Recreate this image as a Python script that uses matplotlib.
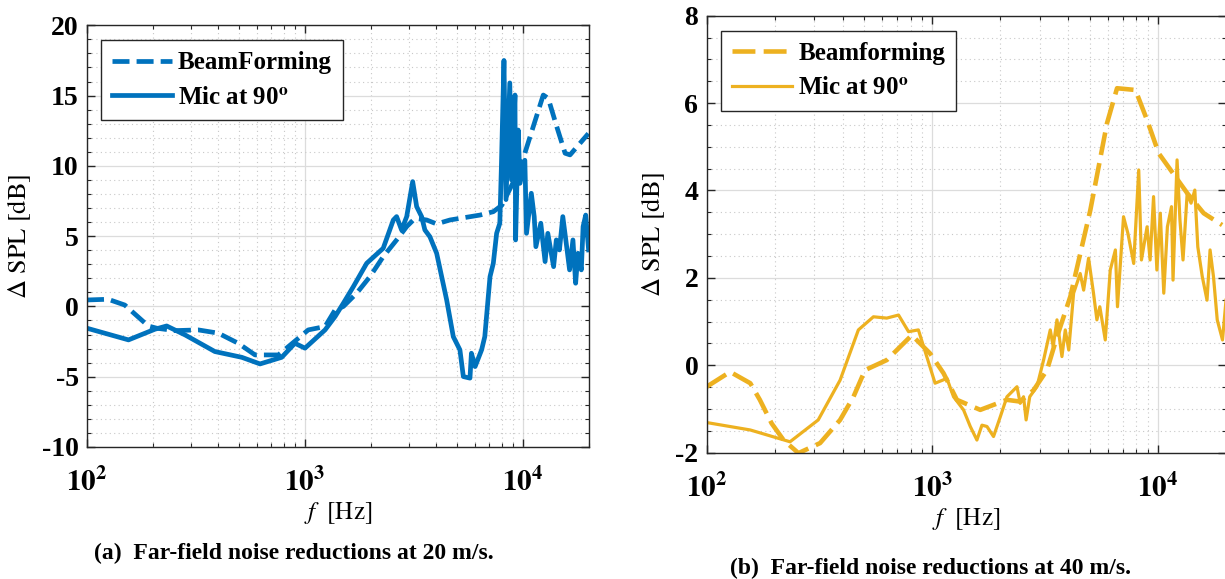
# Far-field noise reductions, beamforming vs single microphone, 20 and 40 m/s

import numpy as np
import matplotlib
matplotlib.use('Agg')
import matplotlib.pyplot as plt
from matplotlib.ticker import FixedLocator, FixedFormatter, MultipleLocator, LogLocator, NullFormatter

plt.rcParams['font.family'] = ['Liberation Serif', 'DejaVu Serif']
plt.rcParams['mathtext.fontset'] = 'stix'
plt.rcParams['axes.unicode_minus'] = False

blue = '#0072BD'
yellow = '#EDB120'

# ---- 20 m/s ----
f_bf_20 = [100, 125, 149, 191, 209, 253, 324, 400, 494, 590, 755, 933, 1035, 1236, 1374,
           1500, 1726, 1986, 2285, 2632, 2928, 3198, 3616, 4018, 4624, 6350, 7310,
           8000, 9000, 10200, 11150, 12390, 13060, 14280, 15600, 16440, 19950]
spl_bf_20 = [0.46, 0.51, 0.1, -1.39, -1.55, -1.72, -1.67, -1.9, -2.62, -3.45, -3.45, -2.26, -1.67, -1.43, -0.25,
             0.0, 0.94, 2.12, 3.54, 4.73, 5.68, 6.27, 6.15, 5.87, 6.15, 6.5, 6.74,
             7.2, 8.8, 10.9, 12.8, 15.04, 14.8, 12.8, 10.9, 10.78, 12.3]

f_mic_20 = [100, 155, 205, 232, 282, 386, 513, 622, 782, 899, 1000, 1236, 1374, 1500, 1667,
            1919, 2285, 2542, 2632, 2774, 2928, 3119, 3253, 3428, 3548, 3741, 4018, 4466,
            4790, 5137, 5326, 5712, 5800, 6030, 6460, 6680, 7060, 7310, 7570, 7830, 7960,
            8180, 8360, 8700, 8860, 9190, 9250, 9510, 9690, 10200, 10380, 10920, 11260,
            11460, 12070, 12630, 13000, 13820, 14220, 14700, 15230, 15790, 16360, 16950,
            17440, 17870, 18520, 18870, 19400, 20000]
spl_mic_20 = [-1.55, -2.38, -1.62, -1.39, -2.03, -3.21, -3.62, -4.09, -3.62, -2.62, -2.97, -1.67, -0.72, 0.23, 1.41,
              3.07, 4.14, 6.15, 6.39, 5.44, 6.39, 8.88, 7.1, 6.39, 5.44, 4.96, 3.78, 0.46,
              -2.15, -3.09, -4.99, -5.1, -3.33, -4.28, -3.09, -2.15, 2.12, 3.07, 5.2, 5.92, 9.94,
              17.5, 7.6, 15.9, 9.0, 15.04, 4.73, 12.55, 8.76, 10.4, 5.2, 8.05, 6.39,
              4.25, 5.92, 3.19, 5.2, 2.83, 4.73, 4.02, 6.39, 4.5, 2.6, 4.73,
              1.65, 3.78, 2.6, 5.68, 6.5, 4.02]

# ---- 40 m/s ----
f_bf_40 = [100, 127, 156, 172, 194, 219, 255, 318, 390, 447, 503, 628, 811, 977, 1120,
           1284, 1630, 2138, 2449, 2806, 3219, 3565, 4084, 5010, 5940, 6580, 7940, 8940,
           10070, 13460, 15930, 19220]
spl_bf_40 = [-0.49, -0.15, -0.41, -0.79, -1.33, -1.71, -2.01, -1.78, -1.25, -0.72, -0.11, 0.12, 0.69, 0.27, -0.18,
             -0.79, -1.02, -0.79, -0.83, -0.57, -0.11, 0.65, 1.57, 3.55, 5.54, 6.34, 6.3, 5.61,
             4.85, 3.94, 3.48, 3.21]

f_mic_40 = [100, 156, 234, 312, 390, 470, 548, 628, 708, 784, 867, 1028, 1160, 1241, 1374,
            1472, 1575, 1658, 1745, 1866, 1999, 2140, 2371, 2450, 2535, 2602, 2700, 2905,
            3110, 3329, 3430, 3565, 3750, 3880, 4020, 4225, 4519, 4680, 4922, 5175, 5358,
            5520, 5835, 6140, 6470, 6610, 7030, 7350, 7800, 8210, 8440, 8940, 9220, 9550,
            9880, 10230, 10600, 11000, 11470, 11650, 12140, 12500, 12900, 13460, 14000,
            14550, 15000, 15700, 16480, 17000, 17600, 18290, 19300, 20000]
spl_mic_40 = [-1.31, -1.48, -1.75, -1.25, -0.34, 0.81, 1.11, 1.08, 1.15, 0.77, 0.81, -0.41, -0.3, -0.72, -1.02,
              -1.4, -1.71, -1.37, -1.4, -1.63, -1.18, -0.72, -0.49, -0.87, -0.72, -1.25, -0.72, -0.49,
              0.12, 0.81, 0.43, 1.04, 0.2, 0.81, 0.35, 1.65, 2.1, 1.72, 2.45, 1.65, 1.04,
              1.34, 0.58, 2.18, 2.64, 1.34, 3.4, 3.02, 2.33, 4.47, 2.41, 3.17, 2.41, 3.86,
              2.18, 3.48, 1.65, 3.17, 3.63, 1.95, 4.7, 3.33, 2.41, 3.94, 3.71,
              4.01, 2.71, 2.03, 1.49, 2.64, 2.03, 1.04, 0.58, 1.49]

fig = plt.figure(figsize=(12.25, 5.79), dpi=100)
ax1 = fig.add_axes([87 / 1225, 1 - 447 / 579, (588.6 - 87) / 1225, (447 - 25.3) / 579])
ax2 = fig.add_axes([706.7 / 1225, 1 - 452.7 / 579, (1226 - 706.7) / 1225, (452.7 - 15.7) / 579])

ax1.plot(f_bf_20, spl_bf_20, color=blue, lw=3.4, ls='--', dashes=(3.6, 1.5), label='BeamForming')
ax1.plot(f_mic_20, spl_mic_20, color=blue, lw=3.4, label=r'Mic at 90$^\mathbf{o}$')
ax2.plot(f_bf_40, spl_bf_40, color=yellow, lw=3.3, ls='--', dashes=(5, 1.8), label='Beamforming')
ax2.plot(f_mic_40, spl_mic_40, color=yellow, lw=2.3, label=r'Mic at 90$^\mathbf{o}$')

ax1.set_ylim(-10, 20)
ax2.set_ylim(-2, 8)
ax1.yaxis.set_major_locator(MultipleLocator(5))
ax1.yaxis.set_minor_locator(MultipleLocator(1))
ax2.yaxis.set_major_locator(MultipleLocator(2))
ax2.yaxis.set_minor_locator(MultipleLocator(0.5))

for ax in (ax1, ax2):
    ax.set_xscale('log')
    ax.set_xlim(100, 20000)
    ax.xaxis.set_major_locator(FixedLocator([100, 1000, 10000]))
    ax.xaxis.set_major_formatter(FixedFormatter([r'$\mathbf{10^{2}}$', r'$\mathbf{10^{3}}$', r'$\mathbf{10^{4}}$']))
    ax.xaxis.set_minor_locator(LogLocator(base=10, subs=np.arange(2, 10)))
    ax.xaxis.set_minor_formatter(NullFormatter())
    ax.grid(which='major', color='#dcdcdc', lw=0.9, ls='-')
    ax.grid(which='minor', color='#c8c8c8', lw=0.8, ls=(0, (1, 3)))
    ax.set_axisbelow(True)
    ax.tick_params(which='both', direction='in', top=True, right=True, color='#262626')
    ax.tick_params(which='major', length=6, width=1, pad=6)
    ax.tick_params(axis='y', which='major', labelsize=20)
    ax.tick_params(axis='x', which='major', labelsize=21, pad=15)
    ax.tick_params(which='minor', length=3, width=0.8)
    for lab in ax.get_yticklabels():
        lab.set_fontweight('bold')
    for s in ax.spines.values():
        s.set_color('#262626')
        s.set_linewidth(1.0)
    ax.set_xlabel(r'$f\ \ \mathrm{[Hz]}$', fontsize=18, labelpad=2)
    ax.set_ylabel(r'$\Delta\ \mathrm{SPL}\ \mathrm{[dB]}$', fontsize=19, labelpad=6)
    leg = ax.legend(loc='upper left', bbox_to_anchor=(0.027, 0.965), borderaxespad=0,
                    fancybox=False, framealpha=1, edgecolor='#262626', handlelength=2.4,
                    handletextpad=0.25, borderpad=0.45, labelspacing=0.45,
                    prop={'weight': 'bold', 'size': 18})
    leg.get_frame().set_linewidth(1.0)

fig.text(294 / 1225, 1 - 553 / 579, '(a)  Far-field noise reductions at 20 m/s.',
         ha='center', va='center', fontsize=17, fontweight='bold')
fig.text(930 / 1225, 1 - 568 / 579, '(b)  Far-field noise reductions at 40 m/s.',
         ha='center', va='center', fontsize=17, fontweight='bold')

fig.savefig('out.png', dpi=100)
